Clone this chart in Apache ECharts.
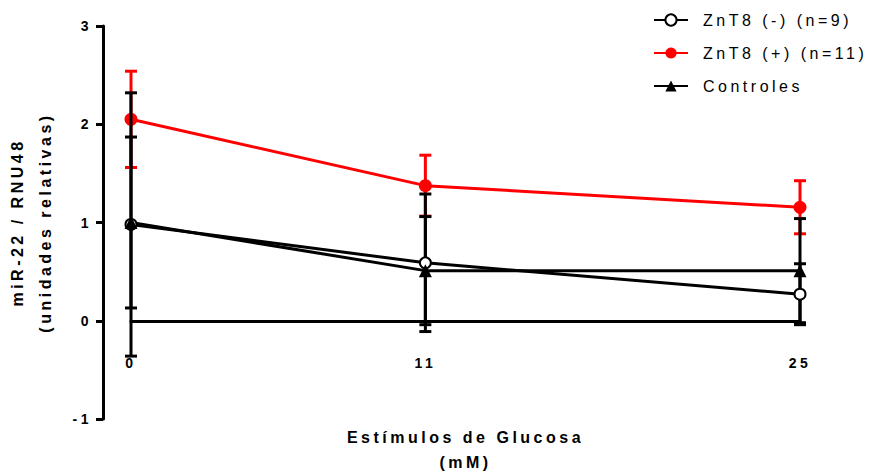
<!DOCTYPE html>
<html>
<head>
<meta charset="utf-8">
<script src="https://cdn.jsdelivr.net/npm/echarts@6/dist/echarts.min.js"></script>
<style>
  html, body { margin: 0; padding: 0; background: #ffffff; }
  #chart { width: 869px; height: 473px; }
  /* spaced-out lettering used throughout the figure */
  #chart text { letter-spacing: 3.5px; }
</style>
</head>
<body>
<div id="chart"></div>
<script>
// Glucose stimulus (mM) and the tick labels shown on the x axis
const glucose = [0, 11, 25];
const xTickValues = [0, 11, 25];

// miR-22 / RNU48 relative expression: means and error half-widths
const znt8NegMean = [0.98, 0.59, 0.27];
const znt8NegErr  = [1.34, 0.70, 0.31];
const znt8PosMean = [2.05, 1.375, 1.155];
const znt8PosErr  = [0.49, 0.31, 0.27];
const controlMean = [1.00, 0.51, 0.51];
const controlErr  = [0.87, 0.55, 0.53];

const seriesNames = ['ZnT8 (-) (n=9)', 'ZnT8 (+) (n=11)', 'Controles'];

const FONT = '"Liberation Sans", Arial, sans-serif';
const RED = '#ff0000';
const BLACK = '#000000';
const LW = 3;

function points(means) {
  return glucose.map((g, i) => [g, means[i]]);
}
function ranges(means, errs) {
  return glucose.map((g, i) => [g, means[i] + errs[i], means[i] - errs[i]]);
}

// vertical bar with caps from (x, hi) to (x, lo)
function errorBar(color) {
  return function (params, api) {
    const x = api.value(0);
    const top = api.coord([x, api.value(1)]);
    const bot = api.coord([x, api.value(2)]);
    const half = 6;
    const style = { stroke: color, lineWidth: LW };
    return {
      type: 'group',
      children: [
        { type: 'line', shape: { x1: top[0], y1: top[1], x2: bot[0], y2: bot[1] }, style },
        { type: 'line', shape: { x1: top[0] - half, y1: top[1], x2: top[0] + half, y2: top[1] }, style },
        { type: 'line', shape: { x1: bot[0] - half, y1: bot[1], x2: bot[0] + half, y2: bot[1] }, style }
      ]
    };
  };
}

function errorSeries(name, means, errs, color, z) {
  return {
    name: name,
    type: 'custom',
    renderItem: errorBar(color),
    data: ranges(means, errs),
    encode: { x: 0, y: [1, 2] },
    clip: false,
    silent: true,
    z: z
  };
}

const chart = echarts.init(document.getElementById('chart'), null, { renderer: 'svg' });

chart.setOption({
  animation: false,
  backgroundColor: '#ffffff',
  textStyle: { fontFamily: FONT, color: BLACK },
  grid: { left: 131, right: 69, top: 26, bottom: 54, containLabel: false, outerBoundsMode: 'none' },
  legend: {
    orient: 'vertical',
    left: 648,
    top: 7,
    itemWidth: 34,
    itemHeight: 14,
    itemGap: 17,
    data: seriesNames,
    textStyle: { fontFamily: FONT, fontSize: 16, color: BLACK, padding: [0, 0, 0, 10] }
  },
  xAxis: {
    type: 'value',
    min: 0,
    max: 25,
    axisLine: { show: true, onZero: true, lineStyle: { color: BLACK, width: LW } },
    axisTick: { show: false },
    splitLine: { show: false },
    axisLabel: {
      customValues: xTickValues,
      margin: -63,
      fontFamily: FONT,
      fontSize: 14,
      fontWeight: 'bold',
      color: BLACK
    },
    name: 'Estímulos de Glucosa\n(mM)',
    nameLocation: 'middle',
    nameGap: 6,
    nameTextStyle: { fontFamily: FONT, fontSize: 16, fontWeight: 'bold', color: BLACK, lineHeight: 25 }
  },
  yAxis: {
    type: 'value',
    min: -1,
    max: 3,
    interval: 1,
    offset: 28,
    axisLine: { show: true, onZero: false, lineStyle: { color: BLACK, width: LW } },
    axisTick: { show: true, inside: false, length: 7, lineStyle: { color: BLACK, width: LW } },
    splitLine: { show: false },
    axisLabel: { margin: 11, fontFamily: FONT, fontSize: 14, fontWeight: 'bold', color: BLACK },
    name: 'miR-22 / RNU48\n(unidades relativas)',
    nameLocation: 'middle',
    nameGap: 44,
    nameTextStyle: { fontFamily: FONT, fontSize: 16, fontWeight: 'bold', color: BLACK, lineHeight: 28 }
  },
  series: [
    errorSeries('err-pos', znt8PosMean, znt8PosErr, RED, 2),
    {
      name: seriesNames[1],
      type: 'line',
      data: points(znt8PosMean),
      symbol: 'circle',
      symbolSize: 13,
      itemStyle: { color: RED },
      lineStyle: { color: RED, width: LW },
      z: 3
    },
    errorSeries('err-neg', znt8NegMean, znt8NegErr, BLACK, 4),
    errorSeries('err-ctrl', controlMean, controlErr, BLACK, 4),
    {
      name: seriesNames[0],
      type: 'line',
      data: points(znt8NegMean),
      symbol: 'emptyCircle',
      symbolSize: 11,
      itemStyle: { color: BLACK, borderColor: BLACK, borderWidth: LW },
      lineStyle: { color: BLACK, width: LW },
      z: 5
    },
    {
      name: seriesNames[2],
      type: 'line',
      data: points(controlMean),
      symbol: 'triangle',
      symbolSize: 13,
      itemStyle: { color: BLACK },
      lineStyle: { color: BLACK, width: LW },
      z: 5
    }
  ]
});
</script>
</body>
</html>
